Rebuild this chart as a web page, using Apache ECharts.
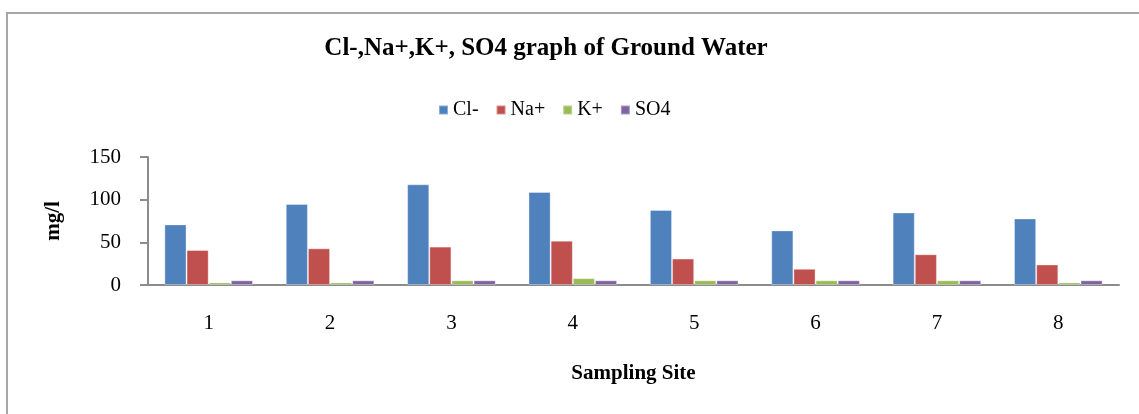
<!DOCTYPE html>
<html>
<head>
    <meta charset="utf-8">
    <title>ECharts</title>
    <script type="text/javascript" src="https://cdn.jsdelivr.net/npm/echarts@6/dist/echarts.min.js"></script>
    <style>
        html, body { margin: 0; padding: 0; background: #fff; }
    </style>
</head>
<body>
    <div id="chart" style="width: 1139px;height:414px;"></div>
</body>
<script type="text/javascript">
    // data
    var sites = ['1', '2', '3', '4', '5', '6', '7', '8'];
    var cl  = [71, 95, 118, 109, 88, 64, 85, 78];
    var na  = [41, 43, 45, 52, 31, 19, 36, 24];
    var k   = [3, 3, 5.5, 8, 5.5, 5.5, 5.5, 3];
    var so4 = [5.5, 5.5, 5.5, 5.5, 5.5, 5.5, 5.5, 5.5];
    var yTicks = [0, 50, 100, 150];

    var serif = '"Liberation Serif", "Times New Roman", serif';
    var chart = echarts.init(document.getElementById("chart"));

    function bar(name, data, color) {
        return {
            name: name,
            type: 'bar',
            data: data,
            barGap: '0%',
            barCategoryGap: '27%',
            itemStyle: { color: color, borderColor: 'rgba(255,255,255,0.35)', borderWidth: 1 }
        };
    }

    chart.setOption({
        animation: false,
        textStyle: { fontFamily: serif },
        graphic: [{
            type: 'rect',
            shape: { x: 7, y: 13, width: 1200, height: 500 },
            style: { fill: 'none', stroke: '#a6a6a6', lineWidth: 2 },
            silent: true
        }, {
            type: 'text',
            x: 546,
            y: 49,
            style: {
                text: 'Cl-,Na+,K+, SO4 graph of Ground Water',
                fontFamily: serif,
                fontWeight: 'bold',
                fontSize: 25,
                fill: '#000',
                align: 'center',
                verticalAlign: 'middle'
            }
        }],
        legend: {
            left: 433,
            top: 95,
            itemWidth: 9,
            itemHeight: 9,
            itemGap: 17,
            icon: 'rect',
            textStyle: { fontFamily: serif, fontSize: 20, color: '#000' },
            data: ['Cl-', 'Na+', 'K+', 'SO4']
        },
        grid: {
            left: 148,
            right: 20,
            top: 157,
            bottom: 129,
            containLabel: false
        },
        xAxis: {
            type: 'category',
            data: sites,
            name: 'Sampling Site',
            nameLocation: 'middle',
            nameGap: 78,
            nameTextStyle: { fontFamily: serif, fontWeight: 'bold', fontSize: 21, color: '#000' },
            axisLine: { lineStyle: { color: '#8c8c8c', width: 2 } },
            axisTick: { show: false },
            axisLabel: { margin: 28, fontFamily: serif, fontSize: 21, color: '#000' }
        },
        yAxis: {
            type: 'value',
            min: yTicks[0],
            max: yTicks[yTicks.length - 1],
            interval: yTicks[1] - yTicks[0],
            name: 'mg/l',
            nameLocation: 'middle',
            nameGap: 84,
            nameRotate: 90,
            nameTextStyle: { fontFamily: serif, fontWeight: 'bold', fontSize: 21, color: '#000' },
            splitLine: { show: false },
            axisLine: { show: true, lineStyle: { color: '#8c8c8c', width: 2 } },
            axisTick: { show: true, length: 8, lineStyle: { color: '#8c8c8c', width: 2 } },
            axisLabel: { margin: 27, fontFamily: serif, fontSize: 21, color: '#000' }
        },
        series: [
            bar('Cl-', cl, '#4f81bd'),
            bar('Na+', na, '#c0504d'),
            bar('K+', k, '#9bbb59'),
            bar('SO4', so4, '#8064a2')
        ]
    });
</script>
</html>
